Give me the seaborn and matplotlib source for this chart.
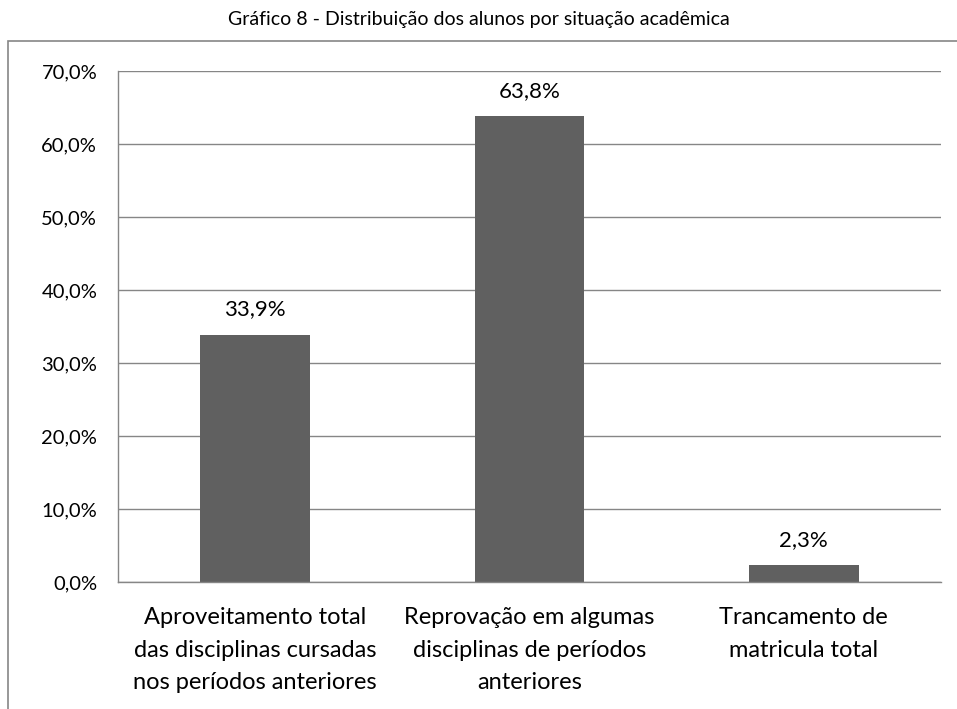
import matplotlib
matplotlib.use("Agg")
import matplotlib.pyplot as plt
import seaborn as sns
import pandas as pd
from matplotlib.patches import Rectangle
from matplotlib.ticker import FuncFormatter

categories = ["Aproveitamento total\ndas disciplinas cursadas\nnos períodos anteriores",
              "Reprovação em algumas\ndisciplinas de períodos\nanteriores",
              "Trancamento de\nmatricula total"]
values = [0.339, 0.638, 0.023]
value_labels = ["33,9%", "63,8%", "2,3%"]
yticks = [0.0, 0.1, 0.2, 0.3, 0.4, 0.5, 0.6, 0.7]
title = "Gráfico 8 - Distribuição dos alunos por situação acadêmica"

sns.set_theme(style="white")
plt.rcParams['font.family'] = ['Lato', 'DejaVu Sans']

df = pd.DataFrame({"cat": categories, "val": values})

fig = plt.figure(figsize=(9.57, 7.09), dpi=100)
ax = fig.add_axes([118/957, 1-582/709, (941-118)/957, (582-71)/709])

sns.barplot(data=df, x="cat", y="val", color="#606060", width=0.4, ax=ax,
            saturation=1, edgecolor="none")

grid_c = "#868686"
ax.set_ylim(0, 0.7)
ax.set_yticks(yticks)
ax.yaxis.set_major_formatter(FuncFormatter(lambda v, p: f"{v*100:.1f}%".replace(".", ",")))
ax.grid(axis="y", color=grid_c, linewidth=1)
ax.set_axisbelow(True)
for s in ["top", "right"]:
    ax.spines[s].set_visible(False)
for s in ["left", "bottom"]:
    ax.spines[s].set_color(grid_c)
    ax.spines[s].set_linewidth(1)
ax.set_xlim(-0.5, 2.5)
ax.set_xticks([0, 1, 2])
ax.set_xticklabels(categories, fontsize=17, color="#000000", linespacing=1.68)
ax.set_xticks([-0.5, 0.5, 1.5, 2.5], minor=True)
ax.tick_params(axis="x", which="major", length=0, pad=18)
ax.tick_params(axis="x", which="minor", length=8, color=grid_c, direction="out", width=1)
ax.tick_params(axis="y", length=8, color=grid_c, direction="out", width=1, labelsize=14.5, pad=7)
ax.tick_params(axis="both", colors="#000000", which="major")
ax.tick_params(axis="y", color=grid_c)
ax.set_xlabel("")
ax.set_ylabel("")

for i, (v, lab) in enumerate(zip(values, value_labels)):
    ax.annotate(lab, (i, v), xytext=(0, 11), textcoords="offset points",
                ha="center", va="bottom", fontsize=16, color="#000000")

fig.patches.append(Rectangle((8/957, -0.2), 1.0, 1.2 - 41/709, transform=fig.transFigure,
                             fill=False, edgecolor=grid_c, linewidth=1.2))
fig.text(479/957, 1-20/709, title, ha="center", va="center", fontsize=14, color="#000000")

fig.savefig("out.png", dpi=100)
